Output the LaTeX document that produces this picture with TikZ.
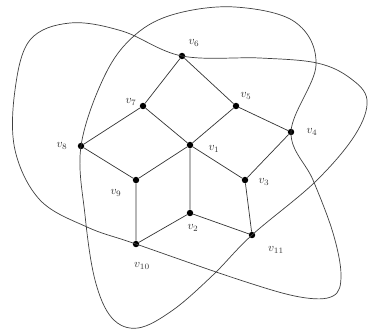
\documentclass[tikz,border=0pt]{standalone}

\begin{document}
\begin{tikzpicture}[
        x=0.03cm, y=-0.03cm,
        vertex/.style = {circle, fill=black, inner sep=0pt, minimum size=5.5pt},
        vlabel/.style = {text=black!80, inner sep=1pt},
        edge/.style = {draw=black!80, line width=0.6pt},
        loopline/.style = {draw=black!75, line width=0.6pt}
        ]
        \useasboundingbox (0,0) rectangle (371,331);
        % vertices
        \node[vertex] (v1) at (190,145) {};
        \node[vertex] (v2) at (190,213) {};
        \node[vertex] (v3) at (245,180) {};
        \node[vertex] (v4) at (291,132) {};
        \node[vertex] (v5) at (236,106) {};
        \node[vertex] (v6) at (182,56) {};
        \node[vertex] (v7) at (143,106) {};
        \node[vertex] (v8) at (81,146) {};
        \node[vertex] (v9) at (136,180) {};
        \node[vertex] (v10) at (136,244) {};
        \node[vertex] (v11) at (252,235) {};
        % labels
        \node[vlabel] (l1) at (214,149) {$v_1$};
        \node[vlabel] (l2) at (193,228) {$v_2$};
        \node[vlabel] (l3) at (264,182) {$v_3$};
        \node[vlabel] (l4) at (312,132) {$v_4$};
        \node[vlabel] (l5) at (246,96) {$v_5$};
        \node[vlabel] (l6) at (194,43) {$v_6$};
        \node[vlabel] (l7) at (131,102) {$v_7$};
        \node[vlabel] (l8) at (62,146) {$v_8$};
        \node[vlabel] (l9) at (116,193) {$v_9$};
        \node[vlabel] (l10) at (142,266) {$v_{10}$};
        \node[vlabel] (l11) at (276,250) {$v_{11}$};
        % edges
        \draw[edge] (v6) -- (v7) (v6) -- (v5) (v7) -- (v8) (v7) -- (v1)
                (v5) -- (v1) (v5) -- (v4) (v4) -- (v3) (v1) -- (v3)
                (v1) -- (v9) (v1) -- (v2) (v8) -- (v9) (v9) -- (v10)
                (v10) -- (v2) (v2) -- (v11) (v3) -- (v11);
        % the closed curve through the outer vertices
        \draw[loopline] plot[smooth cycle, tension=0.6] coordinates {
                (v6.center) (260,58) (317,63) (350,78) (367,100) (355,135) (315,182)
                (v11.center) (213,275) (173,310) (138,328) (112,318) (95,280) (85,215)
                (v8.center) (105,75) (135,35) (175,14) (235,7) (295,22) (316,65)
                (v4.center) (313,180) (333,233) (341,275) (333,296) (300,297) (240,280)
                (v10.center) (87,227) (40,200) (15,150) (15,90) (30,40) (70,23) (122,31)};
\end{tikzpicture}
\end{document}
